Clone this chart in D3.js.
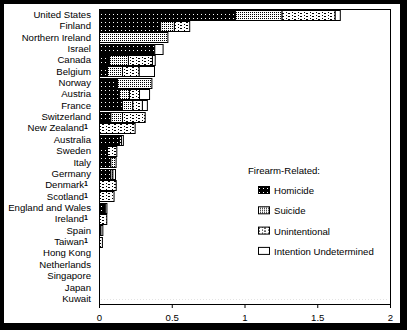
<!DOCTYPE html>
<html><head><meta charset="utf-8">
<script src="https://cdn.jsdelivr.net/npm/d3@7"></script>
<style>
html,body{margin:0;padding:0;background:#000;}
svg{display:block;}
text{font-family:"Liberation Sans",Arial,sans-serif;fill:#000;}
</style></head>
<body>
<svg id="chart" width="407" height="330"></svg>
<script>
const countries = ["United States","Finland","Northern Ireland","Israel","Canada","Belgium","Norway","Austria","France","Switzerland","New Zealand","Australia","Sweden","Italy","Germany","Denmark","Scotland","England and Wales","Ireland","Spain","Taiwan","Hong Kong","Netherlands","Singapore","Japan","Kuwait"];
const footnote = [0,0,0,0,0,0,0,0,0,0,1,0,0,0,0,1,1,0,1,0,1,0,0,0,0,0];
const homicide      = [0.935,0.42,0,0.38,0.069,0.055,0.124,0.137,0.158,0.078,0,0.137,0.055,0.078,0.078,0,0,0.04,0,0.01,0,0,0,0,0,0];
const suicide       = [0.32,0.095,0.47,0,0.13,0.103,0.236,0.069,0.071,0.08,0,0,0,0.036,0.014,0,0,0,0,0,0,0,0,0,0,0];
const unintentional = [0.365,0.105,0,0,0.165,0.115,0,0.069,0.066,0.156,0.245,0.014,0.064,0,0,0.115,0.10,0,0.05,0,0.02,0,0,0,0,0];
const undetermined  = [0.035,0,0,0.057,0.019,0.105,0,0.069,0.034,0,0,0.013,0,0,0.018,0,0,0.011,0,0.013,0,0,0,0,0,0];
const seriesNames = ["Homicide","Suicide","Unintentional","Intention Undetermined"];
const xTicks = [0,0.5,1,1.5,2];
const xTickLabels = ["0","0.5","1","1.5","2"];
const legendTitle = "Firearm-Related:";

const svg = d3.select("#chart");
svg.append("rect").attr("x",4).attr("y",4).attr("width",396).attr("height",319).attr("fill","#fff");

const defs = svg.append("defs");
// Homicide: black with white dots
let p = defs.append("pattern").attr("id","pat0").attr("patternUnits","userSpaceOnUse").attr("width",4).attr("height",4);
p.append("rect").attr("width",4).attr("height",4).attr("fill","#000");
p.append("rect").attr("x",1).attr("y",2).attr("width",1).attr("height",1).attr("fill","#fff");
// Suicide: fine stipple
p = defs.append("pattern").attr("id","pat1").attr("patternUnits","userSpaceOnUse").attr("width",2).attr("height",2);
p.append("rect").attr("width",2).attr("height",2).attr("fill","#fff");
p.append("rect").attr("x",0).attr("y",0).attr("width",1).attr("height",1).attr("fill","#000");
// Unintentional: light dashed rows
p = defs.append("pattern").attr("id","pat2").attr("patternUnits","userSpaceOnUse").attr("width",6).attr("height",3);
p.append("rect").attr("width",6).attr("height",3).attr("fill","#fff");
p.append("rect").attr("x",0).attr("y",1).attr("width",2).attr("height",1).attr("fill","#000");
p.append("rect").attr("x",4).attr("y",0).attr("width",1).attr("height",1).attr("fill","#000");
const fills = ["url(#pat0)","url(#pat1)","url(#pat2)","#fff"];

const x = d3.scaleLinear().domain([0,2]).range([99,390]);
const y = d3.scaleBand().domain(countries).range([9,304]).paddingInner(0.14).paddingOuter(0.05);

const series = [homicide,suicide,unintentional,undetermined];
const rows = countries.map((c,i)=>{
  const o={country:c}; seriesNames.forEach((s,j)=>o[s]=series[j][i]); return o;
});
const stacked = d3.stack().keys(seriesNames)(rows);

// plot box
svg.append("rect").attr("x",x(0)).attr("y",9).attr("width",x(2)-x(0)).attr("height",295)
  .attr("fill","none").attr("stroke","#000").attr("stroke-width",1).attr("shape-rendering","crispEdges");
svg.append("line").attr("x1",x(0)+2).attr("x2",x(2)-3).attr("y1",299.5).attr("y2",299.5)
  .attr("stroke","#e4e4e4").attr("stroke-dasharray","1,2");

stacked.forEach((s,j)=>{
  svg.append("g").selectAll("rect").data(s.filter(d=>d[1]-d[0]>0)).join("rect")
    .attr("x",d=>x(d[0])+0.5)
    .attr("y",d=>Math.round(y(d.data.country))+0.5)
    .attr("width",d=>Math.max(0,x(d[1])-x(d[0])))
    .attr("height",Math.round(y.bandwidth()))
    .attr("fill",fills[j]).attr("stroke","#000").attr("stroke-width",1);
});

// category labels
const lab = svg.append("g").selectAll("text").data(countries).join("text")
  .attr("x",(d,i)=>footnote[i]?88:91)
  .attr("y",d=>y(d)+y.bandwidth()/2)
  .attr("dy","0.35em").attr("text-anchor","end").attr("font-size",9.6);
lab.text(d=>d);
lab.filter((d,i)=>footnote[i]).append("tspan").attr("font-size",7).attr("font-weight","bold").attr("dy","-0.3em").text("1");

// x axis
const xAxis = d3.axisBottom(x).tickValues(xTicks).tickFormat((d,i)=>xTickLabels[i]).tickSize(4).tickPadding(6);
const gx = svg.append("g").attr("transform","translate(0,304)").call(xAxis);
gx.select(".domain").remove();
gx.selectAll("line").attr("stroke","#000");
gx.selectAll("text").attr("font-size",9.6).attr("font-family","Liberation Sans, Arial, sans-serif");

// legend
svg.append("text").attr("x",248).attr("y",174).attr("font-size",9.6).text(legendTitle);
const lg = svg.append("g").selectAll("g").data(seriesNames).join("g")
  .attr("transform",(d,i)=>`translate(258,${186+i*20.3})`);
lg.append("rect").attr("x",0.5).attr("y",0.5).attr("width",11).attr("height",7)
  .attr("fill",(d,i)=>fills[i]).attr("stroke","#000");
lg.append("text").attr("x",16).attr("y",8).attr("font-size",9.6).text(d=>d);
</script>
</body></html>
